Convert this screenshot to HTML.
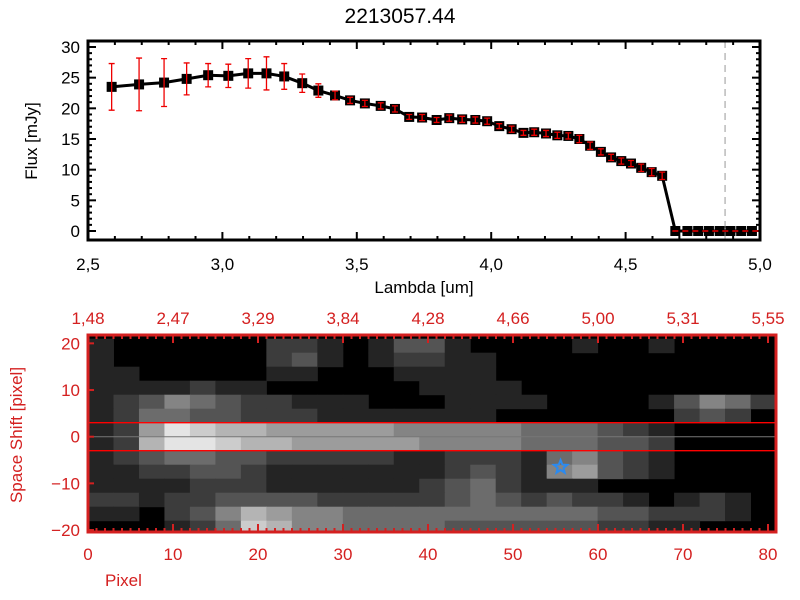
<!DOCTYPE html>
<html><head><meta charset="utf-8"><style>
html,body{margin:0;padding:0;background:#fff;}
svg{display:block;font-family:"Liberation Sans",sans-serif;}
</style></head><body>
<svg id="c" width="800" height="600" viewBox="0 0 800 600"></svg>
<script>
// ---- spectrum data ----
const lambdas=[2.588,2.69,2.783,2.867,2.947,3.022,3.096,3.164,3.23,3.297,3.357,3.419,3.475,3.53,3.589,3.642,3.695,3.743,3.797,3.844,3.892,3.941,3.985,4.03,4.076,4.12,4.16,4.204,4.246,4.287,4.328,4.368,4.408,4.446,4.484,4.52,4.558,4.597,4.636,4.685,4.73,4.77,4.81,4.85,4.89,4.93,4.97];
const fluxes=[23.5,23.9,24.2,24.8,25.4,25.3,25.7,25.7,25.2,24.1,22.9,22.1,21.3,20.8,20.4,19.9,18.6,18.5,18.1,18.4,18.2,18.1,17.9,17.1,16.6,16.0,16.1,15.9,15.6,15.5,15.0,13.9,12.9,12.0,11.4,11.0,10.3,9.6,9.0,0,0,0,0,0,0,0,0];
const errs=[3.8,4.3,3.9,2.6,1.9,1.9,2.4,2.7,2.1,1.5,1.1,0.7,0.5,0.5,0.5,0.5,0.4,0.5,0.4,0.5,0.5,0.5,0.5,0.4,0.5,0.4,0.5,0.5,0.5,0.5,0.6,0.6,0.5,0.5,0.5,0.5,0.6,0.6,0.6,0,0,0,0,0,0,0,0];
const xTicks=["2.5","3.0","3.5","4.0","4.5","5.0"];
const yTicks=["0","5","10","15","20","25","30"];
const cutoffLambda=4.87;
// ---- image data ----
const pixTicks=["0","10","20","30","40","50","60","70","80"];
const topWaveLabels=["1.48","2.47","3.29","3.84","4.28","4.66","5.00","5.31","5.55"];
const shiftTicks=["20","10","0","-10","-20"];
const rowCenters=[19.5,16.5,13.5,10.5,7.5,4.5,1.5,-1.5,-4.5,-7.5,-10.5,-13.5,-16.5,-19.5];
const img=[
"100000022101331000010010000",
"100000023101221100000000000",
"110000011000111100000000000",
"111121100000011110000000000",
"123543221110001111000013542",
"124433222111111100000002320",
"126987766666555554443210000",
"127998776666655554443320000",
"123443322222112221453210000",
"112233211111112321563210000",
"111122211111123421110000000",
"221223333222223432322101210",
"110235765544444444443322210",
"000124875544443333332211000"];
const starPix=[55.6,-6.5];

const NS="http://www.w3.org/2000/svg";
const svg=document.getElementById('c');
function el(t,a,p){const e=document.createElementNS(NS,t);for(const k in a)e.setAttribute(k,a[k]);(p||svg).appendChild(e);return e;}
function txt(s,a,p){const e=el('text',a,p);e.textContent=s;return e;}

// ===== top plot =====
const L=88,R=760,T=41,B=240;
const X=l=>L+(l-2.5)*(R-L)/2.5;
const Y=f=>231-f*(231-47)/30;
const g1=el('g',{});


const title=txt("2213057.44",{x:400,y:23,'text-anchor':'middle','font-size':21,fill:'#000'},g1);


const cl=el('line',{x1:X(cutoffLambda),x2:X(cutoffLambda),y1:T,y2:B,stroke:'#999','stroke-width':1,'stroke-dasharray':'7,5'},g1);


for(let i=0;i<=25;i++){const l=2.5+i*0.1,x=X(l),len=i%5==0?8:4;
 el('line',{x1:x,x2:x,y1:B,y2:B-len,stroke:'#000','stroke-width':2},g1);
 el('line',{x1:x,x2:x,y1:T,y2:T+len,stroke:'#000','stroke-width':2},g1);}
xTicks.forEach(s=>{const t=txt(s.replace('.',','),{x:X(+s),y:270,'text-anchor':'middle','font-size':17},g1);
 
 });
for(let f=0;f<=31;f++){const y=Y(f);if(y<T)break;const len=f%5==0?8:4;
 el('line',{x1:L,x2:L+len,y1:y,y2:y,stroke:'#000','stroke-width':2},g1);
 el('line',{x1:R,x2:R-len,y1:y,y2:y,stroke:'#000','stroke-width':2},g1);}
yTicks.forEach(s=>{const t=txt(s,{x:80,y:Y(+s)+6,'text-anchor':'end','font-size':17},g1);
 
 });
const xl=txt("Lambda [um]",{x:424,y:293,'text-anchor':'middle','font-size':17},g1);


const yl=txt("Flux [mJy]",{x:0,y:0,'text-anchor':'middle','font-size':17,transform:'translate(37,141) rotate(-90)'},g1);


const ln=el('polyline',{points:lambdas.map((l,i)=>X(l)+','+Y(fluxes[i])).join(' '),fill:'none',stroke:'#000','stroke-width':3},g1);


lambdas.forEach((l,i)=>{const x=X(l),y=Y(fluxes[i]);
 const m=el('rect',{x:x-5,y:y-5,width:10,height:10,fill:'#000'},g1);
 
 
 if(errs[i]>0){const y1=Y(fluxes[i]+errs[i]),y2=Y(fluxes[i]-errs[i]);
  const e=el('path',{d:`M${x},${y1}V${y2}M${x-3},${y1}H${x+3}M${x-3},${y2}H${x+3}`,stroke:'#e00','stroke-width':1.3,fill:'none'},g1);
  
  }
});
const zl=el('line',{x1:X(lambdas[39])-3,x2:R,y1:Y(0),y2:Y(0),stroke:'#e00','stroke-width':1.5,'stroke-dasharray':'6,4'},g1);


const fr=el('rect',{x:L,y:T,width:R-L,height:B-T,fill:'none',stroke:'#000','stroke-width':3},g1);



// ===== bottom image =====
const L2=88,R2=776,T2=335,B2=532;
const PX=p=>L2+p*(768-L2)/80;
const SY=s=>436.7-s*4.667;
const RED='#d42020';
const g2=el('g',{});


el('rect',{x:L2,y:T2,width:R2-L2,height:B2-T2,fill:'#000'},g2);
const cw=(R2-L2)/27;
img.forEach((row,r)=>{for(let c=0;c<row.length;c++){const v=+row[c];if(v==0)continue;
 const gv=Math.min(255,Math.round(12+v*24));
 const y0=SY(rowCenters[r]+1.5),y1=SY(rowCenters[r]-1.5);
 const cell=el('rect',{x:L2+c*cw,y:Math.max(T2,y0),width:cw+0.5,height:Math.min(B2,y1)-Math.max(T2,y0)+0.5,fill:`rgb(${gv},${gv},${gv})`},g2);
 
 }});
el('line',{x1:L2,x2:R2,y1:SY(0),y2:SY(0),stroke:'#777','stroke-width':1},g2);
[3,-3].forEach(s=>{const a=el('line',{x1:L2,x2:R2,y1:SY(s),y2:SY(s),stroke:'#f00','stroke-width':1.3},g2);
 
 });
{const cx=PX(starPix[0]),cy=SY(starPix[1]);let pts=[];
 for(let k=0;k<10;k++){const a=-Math.PI/2+k*Math.PI/5,r=k%2?3:7;pts.push((cx+r*Math.cos(a)).toFixed(1)+','+(cy+r*Math.sin(a)).toFixed(1));}
 const st=el('polygon',{points:pts.join(' '),fill:'none',stroke:'#2a8af0','stroke-width':2},g2);
 
 }
for(let p=0;p<=80;p++){const x=PX(p),len=p%10==0?8:4;
 el('line',{x1:x,x2:x,y1:B2,y2:B2-len,stroke:RED,'stroke-width':2},g2);
 el('line',{x1:x,x2:x,y1:T2,y2:T2+len,stroke:RED,'stroke-width':2},g2);}
pixTicks.forEach((s,i)=>{const t=txt(s,{x:PX(+s),y:560,'text-anchor':'middle','font-size':17,fill:RED},g2);
 
 
 const w=txt(topWaveLabels[i].replace('.',','),{x:PX(+s),y:324,'text-anchor':'middle','font-size':17,fill:RED},g2);
 
 });
shiftTicks.forEach(s=>{const y=SY(+s);
 el('line',{x1:L2,x2:L2+6,y1:y,y2:y,stroke:RED,'stroke-width':2},g2);
 const t=txt(s.replace('-','−'),{x:80,y:y+6,'text-anchor':'end','font-size':17,fill:RED},g2);
 
 });
const px=txt("Pixel",{x:105,y:586,'font-size':17,fill:RED},g2);


const sy=txt("Space Shift [pixel]",{x:0,y:0,'text-anchor':'middle','font-size':17,fill:RED,transform:'translate(22,435) rotate(-90)'},g2);


const fr2=el('rect',{x:L2,y:T2,width:R2-L2,height:B2-T2,fill:'none',stroke:RED,'stroke-width':3},g2);


</script>
</body></html>
